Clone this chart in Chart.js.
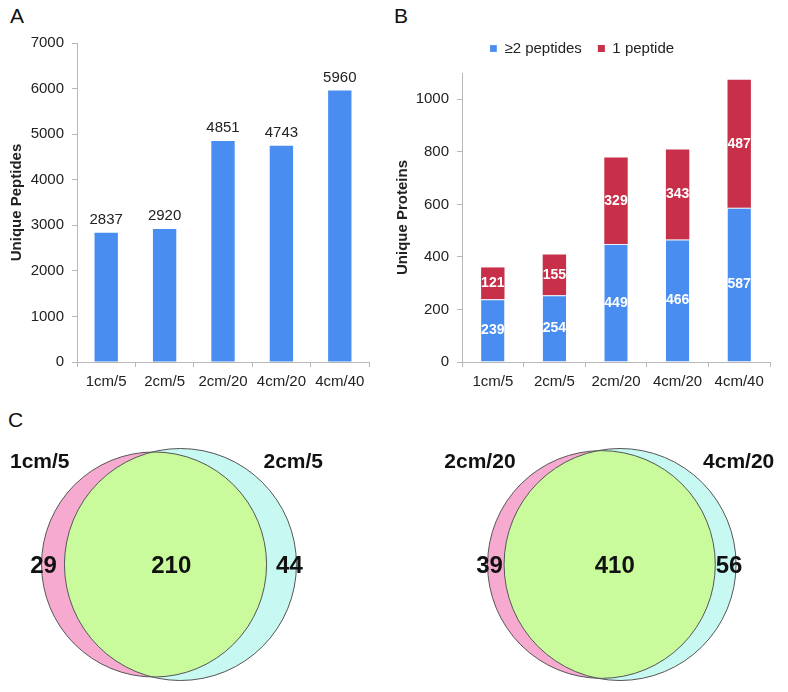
<!DOCTYPE html>
<html>
<head>
<meta charset="utf-8">
<script src="https://cdn.jsdelivr.net/npm/chart.js@4"></script>
<style>
  body { margin: 0; background: #fff; }
  #wrap { position: relative; width: 788px; height: 692px; overflow: hidden; font-family: "Liberation Sans", Arial, sans-serif; }
  canvas { position: absolute; }
  .panel { position: absolute; font-size: 21px; color: #111; line-height: 1; }
</style>
</head>
<body>
<div id="wrap">
  <div class="panel" style="left:10px;top:5px">A</div>
  <div class="panel" style="left:394px;top:5px">B</div>
  <div class="panel" style="left:8px;top:409px">C</div>
  <canvas id="chartA" width="394" height="400" style="left:0;top:0"></canvas>
  <canvas id="chartB" width="394" height="400" style="left:394px;top:0"></canvas>
  <canvas id="vennL" width="394" height="262" style="left:0;top:430px"></canvas>
  <canvas id="vennR" width="394" height="262" style="left:394px;top:430px"></canvas>
</div>
<script>
const categories = ['1cm/5', '2cm/5', '2cm/20', '4cm/20', '4cm/40'];
const uniquePeptides = [2837, 2920, 4851, 4743, 5960];
const proteinsMulti = [239, 254, 449, 466, 587];
const proteinsSingle = [121, 155, 329, 343, 487];
const peptideTicks = [0, 1000, 2000, 3000, 4000, 5000, 6000, 7000];
const proteinTicks = [0, 200, 400, 600, 800, 1000];

const vennLeftNames = ['1cm/5', '2cm/20'];
const vennRightNames = ['2cm/5', '4cm/20'];
const vennOnlyLeft = [29, 39];
const vennShared = [210, 410];
const vennOnlyRight = [44, 56];

const FONT = '"Liberation Sans", Arial, sans-serif';
const BLUE = '#4a8df0';
const RED = '#c8304a';
const AXIS = '#b8b8b8';
const TXT = '#222';

Chart.defaults.font.family = FONT;
Chart.defaults.animation = false;

function xAxis(h) {
    return {
        grid: { display: true, drawOnChartArea: false, tickLength: 5, color: AXIS, offset: true },
        border: { color: AXIS },
        ticks: { color: TXT, font: { size: 15 }, padding: 6, maxRotation: 0, autoSkip: false },
        afterFit: s => { s.height = h; }
    };
}

function yAxis(max, tickVals, title, w, titlePad) {
    return {
        min: 0,
        max: max,
        ticks: { color: TXT, font: { size: 15 }, padding: 8, callback: v => String(v) },
        afterBuildTicks: s => { s.ticks = tickVals.map(v => ({ value: v })); },
        grid: { display: true, drawOnChartArea: false, tickLength: 5, color: AXIS },
        border: { color: AXIS },
        title: { display: true, text: title, color: TXT, font: { size: 15, weight: 'bold' }, padding: { top: titlePad, bottom: 0 } },
        afterFit: s => { s.width = w; }
    };
}

// value labels above bars of A
const topLabels = {
    id: 'topLabels',
    afterDatasetsDraw(chart) {
        const ctx = chart.ctx;
        const meta = chart.getDatasetMeta(0);
        ctx.save();
        ctx.font = '15px ' + FONT;
        ctx.fillStyle = TXT;
        ctx.textAlign = 'center';
        ctx.textBaseline = 'middle';
        meta.data.forEach((bar, i) => {
            ctx.fillText(uniquePeptides[i], bar.x, bar.y - 13);
        });
        ctx.restore();
    }
};

// white labels inside stacked segments of B
const innerLabels = {
    id: 'innerLabels',
    afterDatasetsDraw(chart) {
        const ctx = chart.ctx;
        ctx.save();
        ctx.font = 'bold 14px ' + FONT;
        ctx.fillStyle = '#fff';
        ctx.textAlign = 'center';
        ctx.textBaseline = 'middle';
        chart.data.datasets.forEach((ds, di) => {
            chart.getDatasetMeta(di).data.forEach((bar, i) => {
                ctx.fillText(ds.data[i], bar.x, (bar.y + bar.base) / 2);
            });
        });
        ctx.restore();
    }
};

// leave a bit more room under the legend
const legendGap = {
    id: 'legendGap',
    beforeUpdate(chart) {
        const lg = chart.legend;
        if (lg && !lg._gapPatched) {
            const fit = lg.fit.bind(lg);
            lg.fit = function () { fit(); this.height += 7; };
            lg._gapPatched = true;
        }
    }
};

new Chart(document.getElementById('chartA'), {
    type: 'bar',
    data: {
        labels: categories,
        datasets: [{
            data: uniquePeptides,
            backgroundColor: BLUE,
            categoryPercentage: 1,
            barPercentage: 0.4
        }]
    },
    options: {
        responsive: false,
        layout: { padding: { top: 43, right: 25, left: 0, bottom: 0 } },
        plugins: { legend: { display: false }, tooltip: { enabled: false } },
        scales: {
            x: xAxis(38),
            y: yAxis(7000, peptideTicks, 'Unique Peptides', 77, 8)
        }
    },
    plugins: [topLabels]
});

new Chart(document.getElementById('chartB'), {
    type: 'bar',
    data: {
        labels: categories,
        datasets: [{
            label: '≥2 peptides',
            data: proteinsMulti,
            backgroundColor: BLUE,
            borderColor: '#e8f2ff',
            borderWidth: { top: 1, left: 0, right: 0, bottom: 0 },
            borderSkipped: false,
            categoryPercentage: 1,
            barPercentage: 0.38
        }, {
            label: '1 peptide',
            data: proteinsSingle,
            backgroundColor: RED,
            categoryPercentage: 1,
            barPercentage: 0.38
        }]
    },
    options: {
        responsive: false,
        layout: { padding: { top: 25, right: 18, left: 0, bottom: 0 } },
        plugins: {
            legend: {
                display: true,
                position: 'top',
                labels: { boxWidth: 7, boxHeight: 7, color: TXT, font: { size: 15 }, padding: 16 }
            },
            tooltip: { enabled: false }
        },
        scales: {
            x: Object.assign(xAxis(38), { stacked: true }),
            y: Object.assign(yAxis(1100, proteinTicks, 'Unique Proteins', 68, 0), { stacked: true })
        }
    },
    plugins: [innerLabels, legendGap]
});

// Venn diagrams: area-proportional circles placed on hidden linear scales
function lensArea(r1, r2, d) {
    if (d >= r1 + r2) return 0;
    if (d <= Math.abs(r1 - r2)) return Math.PI * Math.min(r1, r2) ** 2;
    const a = r1 * r1 * Math.acos((d * d + r1 * r1 - r2 * r2) / (2 * d * r1));
    const b = r2 * r2 * Math.acos((d * d + r2 * r2 - r1 * r1) / (2 * d * r2));
    const c = 0.5 * Math.sqrt((-d + r1 + r2) * (d + r1 - r2) * (d - r1 + r2) * (d + r1 + r2));
    return a + b - c;
}

function makeVenn(id, idx, midX) {
    const W = 394, H = 262, midY = 134.5, bigR = 116;
    const rA = Math.sqrt((vennOnlyLeft[idx] + vennShared[idx]) / Math.PI);
    const rB = Math.sqrt((vennOnlyRight[idx] + vennShared[idx]) / Math.PI);
    let lo = Math.abs(rA - rB), hi = rA + rB;
    for (let i = 0; i < 60; i++) {
        const m = (lo + hi) / 2;
        if (lensArea(rA, rB, m) > vennShared[idx]) lo = m; else hi = m;
    }
    const d = (lo + hi) / 2;
    const k = bigR / Math.max(rA, rB);

    const vennDraw = {
        id: 'vennDraw',
        afterDatasetsDraw(chart) {
            const { ctx, scales: { x, y } } = chart;
            const pts = chart.getDatasetMeta(0).data;
            const radii = [rA, rB].map(r => x.getPixelForValue(r) - x.getPixelForValue(0));
            const circ = i => { ctx.beginPath(); ctx.arc(pts[i].x, pts[i].y, radii[i], 0, Math.PI * 2); };
            ctx.save();
            circ(0); ctx.fillStyle = '#f7aad0'; ctx.fill();
            circ(1); ctx.fillStyle = '#c8f8f2'; ctx.fill();
            ctx.save();
            circ(0); ctx.clip();
            circ(1); ctx.fillStyle = '#c9fb9d'; ctx.fill();
            ctx.restore();
            ctx.strokeStyle = '#555';
            ctx.lineWidth = 1;
            circ(0); ctx.stroke();
            circ(1); ctx.stroke();

            const cy = pts[0].y;
            const leftEdge = pts[0].x - radii[0];
            const rightEdge = pts[1].x + radii[1];
            ctx.fillStyle = '#111';
            ctx.textBaseline = 'middle';
            ctx.font = 'bold 24px ' + FONT;
            ctx.textAlign = 'center';
            ctx.fillText(vennOnlyLeft[idx], leftEdge + 2, cy + 2);
            ctx.fillText(vennShared[idx], (pts[0].x + pts[1].x) / 2 + 4, cy + 2);
            ctx.fillText(vennOnlyRight[idx], rightEdge - 7, cy + 2);
            ctx.font = 'bold 21px ' + FONT;
            ctx.textAlign = 'right';
            ctx.fillText(vennLeftNames[idx], leftEdge + 28, cy - 102);
            ctx.textAlign = 'left';
            ctx.fillText(vennRightNames[idx], rightEdge - 33, cy - 102);
            ctx.restore();
        }
    };

    new Chart(document.getElementById(id), {
        type: 'scatter',
        data: {
            datasets: [{
                data: [{ x: -d / 2, y: 0 }, { x: d / 2, y: 0 }],
                pointRadius: 0
            }]
        },
        options: {
            responsive: false,
            layout: { padding: 0 },
            plugins: { legend: { display: false }, tooltip: { enabled: false } },
            scales: {
                x: { display: false, min: -midX / k, max: (W - midX) / k },
                y: { display: false, min: -(H - midY) / k, max: midY / k }
            }
        },
        plugins: [vennDraw]
    });
}

makeVenn('vennL', 0, 167.25);
makeVenn('vennR', 1, 216.75);
</script>
</body>
</html>
